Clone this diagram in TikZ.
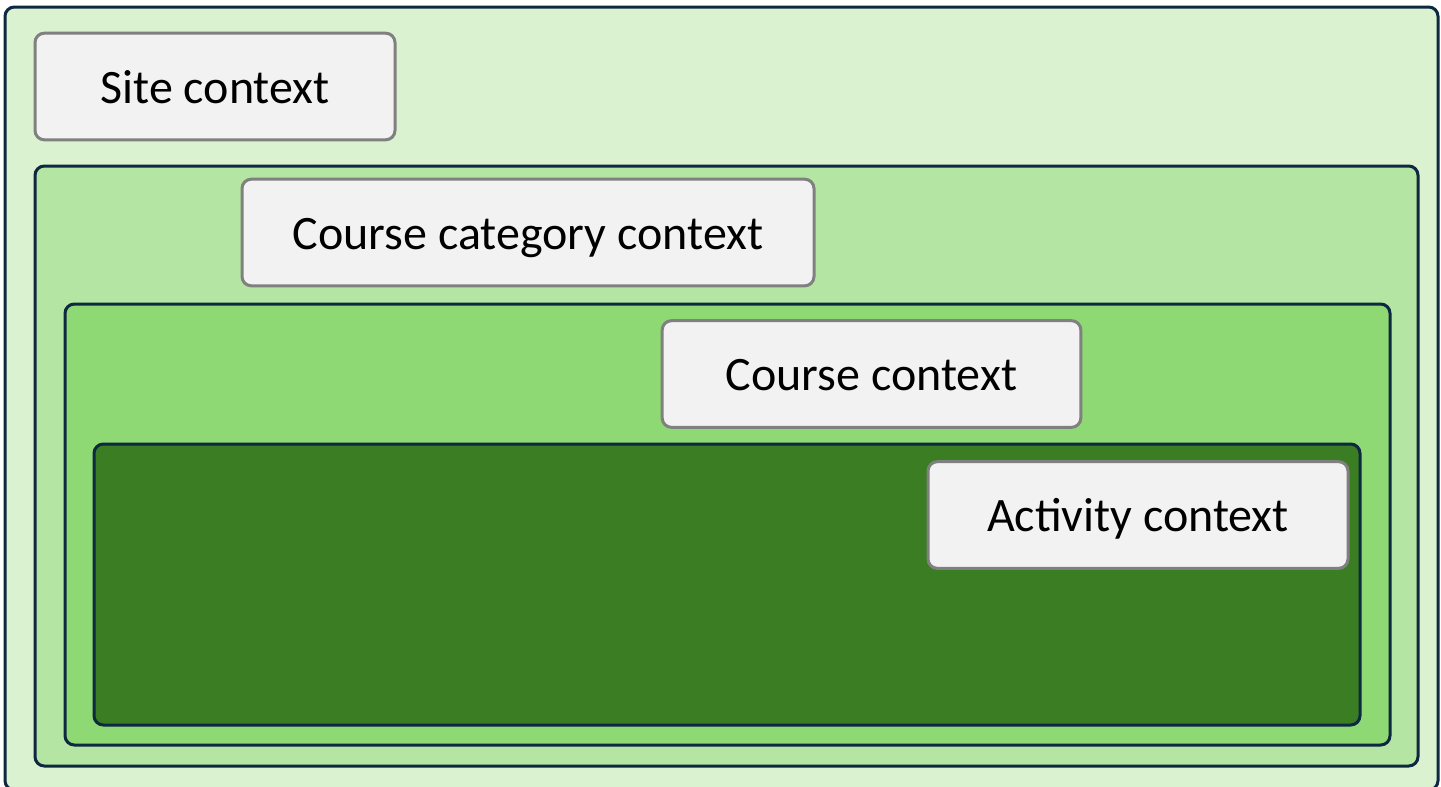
\documentclass[tikz,border=0pt]{standalone}
\usepackage{fontspec}
\setmainfont{Carlito}
\definecolor{framenavy}{HTML}{0E2841}
\definecolor{sitegreen}{HTML}{DAF2D0}
\definecolor{catgreen}{HTML}{B4E5A2}
\definecolor{coursegreen}{HTML}{8ED973}
\definecolor{actgreen}{HTML}{3B7D23}
\definecolor{boxgray}{HTML}{F2F2F2}
\definecolor{boxline}{HTML}{808080}

\begin{document}
\begin{tikzpicture}[x=0.75pt, y=-0.75pt,
    level/.style={draw=framenavy, line width=2.25pt, rounded corners=7pt},
    ctxbox/.style={draw=boxline, fill=boxgray, line width=2.25pt, rounded corners=7pt,
        minimum height=80pt, text height=25pt, text depth=0pt,
        font=\fontsize{36}{40}\selectfont}]
    \useasboundingbox (0,0) rectangle (1441,786);
    % nested levels
    \draw[level, fill=sitegreen] (5,7) rectangle (1438,790);
    \draw[level, fill=catgreen] (35,166) rectangle (1418,766);
    \draw[level, fill=coursegreen] (65,304) rectangle (1390,745);
    \draw[level, fill=actgreen] (94,444) rectangle (1360,725);
    % labels
    \node[ctxbox, minimum width=270pt] (site) at (215,86.5) {Site context};
    \node[ctxbox, minimum width=429pt] (category) at (528,232.5) {Course category context};
    \node[ctxbox, minimum width=314pt] (course) at (871.5,374) {Course context};
    \node[ctxbox, minimum width=315pt] (activity) at (1138,515) {Activity context};
\end{tikzpicture}
\end{document}
